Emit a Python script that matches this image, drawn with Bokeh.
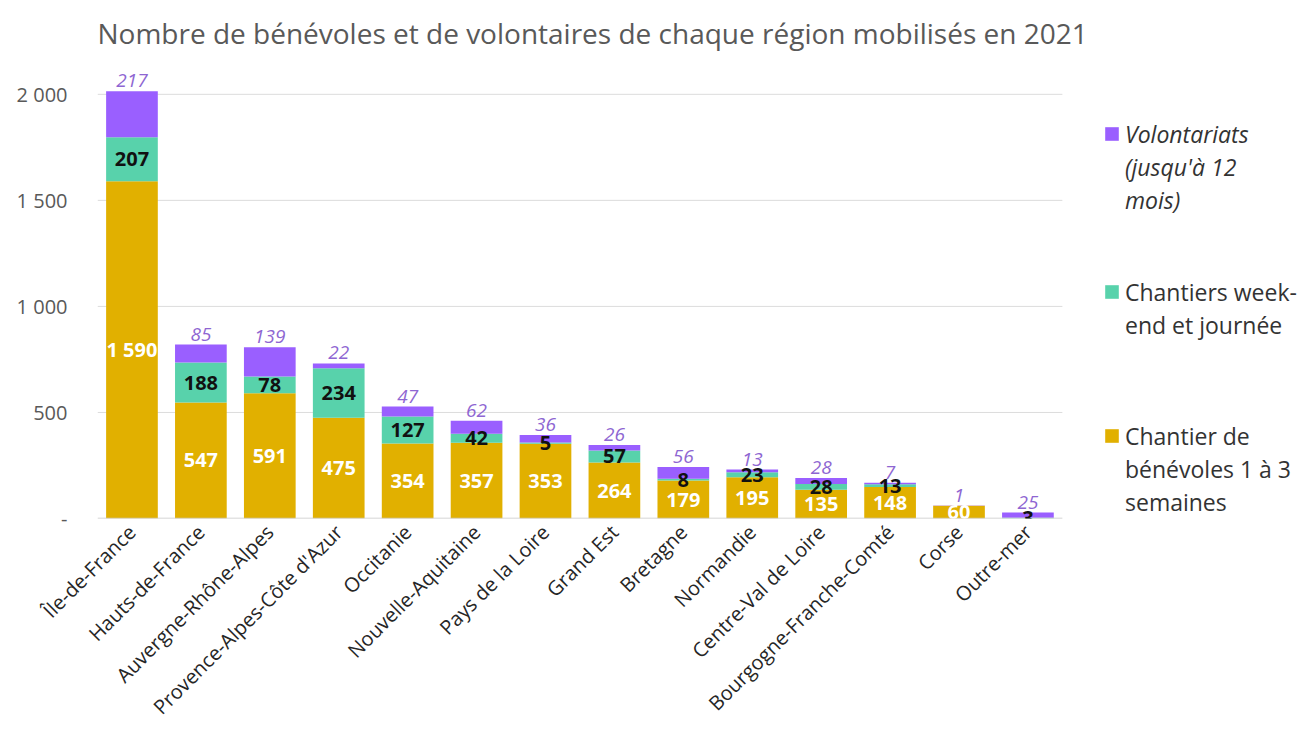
from bokeh.plotting import figure
from bokeh.models import ColumnDataSource, Range1d, Legend, LegendItem, FixedTicker
from bokeh.core.properties import value
from bokeh.embed import file_html
from bokeh.resources import INLINE
from math import pi

regions = ["Île-de-France", "Hauts-de-France", "Auvergne-Rhône-Alpes",
           "Provence-Alpes-Côte d'Azur", "Occitanie", "Nouvelle-Aquitaine",
           "Pays de la Loire", "Grand Est", "Bretagne", "Normandie",
           "Centre-Val de Loire", "Bourgogne-Franche-Comté", "Corse", "Outre-mer"]
benevoles = [1590, 547, 591, 475, 354, 357, 353, 264, 179, 195, 135, 148, 60, 0]
weekend = [207, 188, 78, 234, 127, 42, 5, 57, 8, 23, 28, 13, 0, 3]
volontariats = [217, 85, 139, 22, 47, 62, 36, 26, 56, 13, 28, 7, 1, 25]
y_ticks = [0, 500, 1000, 1500, 2000]
y_tick_labels = ["-", "500", "1 000", "1 500", "2 000"]
series_lines = [["Chantier de", "bénévoles 1 à 3", "semaines"],
                ["Chantiers week-", "end et journée"],
                ["Volontariats", "(jusqu'à 12", "mois)"]]
title_text = "Nombre de bénévoles et de volontaires de chaque région mobilisés en 2021"

C_BEN = "#E1B000"
C_WE = "#58D2AB"
C_VOL = "#9A5FFF"
FONT = "Open Sans"

def fmt(v):
    return f"{v:,}".replace(",", " ")

n = len(regions)
xs = [i + 0.5 for i in range(n)]
src = ColumnDataSource(dict(x=xs, ben=benevoles, we=weekend, vol=volontariats))

p = figure(x_range=Range1d(0, 17.6), y_range=Range1d(0, 2150),
           width=1310, height=740,
           output_backend="svg", toolbar_location=None, title=title_text)
p.min_border_left = 97
p.min_border_right = 0
p.min_border_top = 61
p.min_border_bottom = 222
p.outline_line_color = None

# grid lines and baseline limited to the category area
p.xgrid.grid_line_color = None
p.ygrid.grid_line_color = None
p.segment(x0=0, x1=n, y0=y_ticks[1:], y1=y_ticks[1:], line_color="#dcdcdc", line_width=1)

rs = p.vbar_stack(["ben", "we", "vol"], x="x", width=0.75, source=src,
                  color=[C_BEN, C_WE, C_VOL], line_color=None)
p.segment(x0=[0], x1=[n], y0=[0], y1=[0], line_color="#c8c8c8", line_width=1.5)

# labels
ben_lab = dict(x=[], y=[], t=[])
we_lab = dict(x=[], y=[], t=[])
vol_lab = dict(x=[], y=[], t=[])
for x, b, w, v in zip(xs, benevoles, weekend, volontariats):
    if b > 0:
        ben_lab["x"].append(x); ben_lab["y"].append(b / 2); ben_lab["t"].append(fmt(b))
    if w > 0:
        we_lab["x"].append(x); we_lab["y"].append(b + w / 2); we_lab["t"].append(fmt(w))
    if v > 0:
        vol_lab["x"].append(x); vol_lab["y"].append(b + w + v); vol_lab["t"].append(fmt(v))

p.text(x="x", y="y", text="t", source=ColumnDataSource(ben_lab),
       text_align="center", text_baseline="middle", text_color="white",
       text_font=value(FONT), text_font_style="bold", text_font_size="20px")
p.text(x="x", y="y", text="t", source=ColumnDataSource(we_lab),
       text_align="center", text_baseline="middle", text_color="#111111",
       text_font=value(FONT), text_font_style="bold", text_font_size="20px")
p.text(x="x", y="y", text="t", source=ColumnDataSource(vol_lab),
       text_align="center", text_baseline="bottom", text_color="#8E66D2", y_offset=-4,
       text_font=value(FONT), text_font_style="italic", text_font_size="19px")

# axes
p.yaxis.ticker = FixedTicker(ticks=y_ticks)
p.yaxis.major_label_overrides = {t: l for t, l in zip(y_ticks, y_tick_labels)}
p.yaxis.axis_line_color = None
p.yaxis.major_tick_line_color = None
p.yaxis.major_tick_out = 0
p.yaxis.minor_tick_line_color = None
p.yaxis.major_label_text_font = FONT
p.yaxis.major_label_text_font_size = "20px"
p.yaxis.major_label_text_color = "#595959"
p.yaxis.major_label_standoff = 30

p.xaxis.ticker = FixedTicker(ticks=xs)
p.xaxis.major_label_overrides = {x: r for x, r in zip(xs, regions)}
p.xaxis.axis_line_color = None
p.xaxis.major_tick_line_color = None
p.xaxis.minor_tick_line_color = None
p.xaxis.major_tick_out = 0
p.xaxis.major_label_orientation = pi / 4
p.xaxis.major_label_text_font = FONT
p.xaxis.major_label_text_font_size = "20px"
p.xaxis.major_label_text_color = "#262626"
p.xaxis.major_label_standoff = 10

p.title.text_font = FONT
p.title.text_font_size = "28px"
p.title.text_font_style = "normal"
p.title.text_color = "#595959"
p.title.standoff = 22

# legends (one per series, each line a row; only the first row has a swatch)
spacer = p.vbar(x=[], top=[], width=0, fill_alpha=0, line_alpha=0)
legend_locs = [(1006, 0), (1006, 177), (1006, 302)]
styles = ["normal", "normal", "italic"]
for i in [2, 1, 0]:
    items = [LegendItem(label=series_lines[i][0], renderers=[rs[i]])]
    for line in series_lines[i][1:]:
        items.append(LegendItem(label=line, renderers=[spacer]))
    lg = Legend(items=items, location=legend_locs[i], glyph_width=17, glyph_height=17,
                label_standoff=5, label_height=33, spacing=0, padding=0, margin=0,
                border_line_color=None, background_fill_alpha=0,
                label_text_font=FONT, label_text_font_size="23px",
                label_text_color="#333333", label_text_font_style=styles[i])
    p.add_layout(lg, "center")

open("out.html", "w").write(file_html(p, INLINE))
